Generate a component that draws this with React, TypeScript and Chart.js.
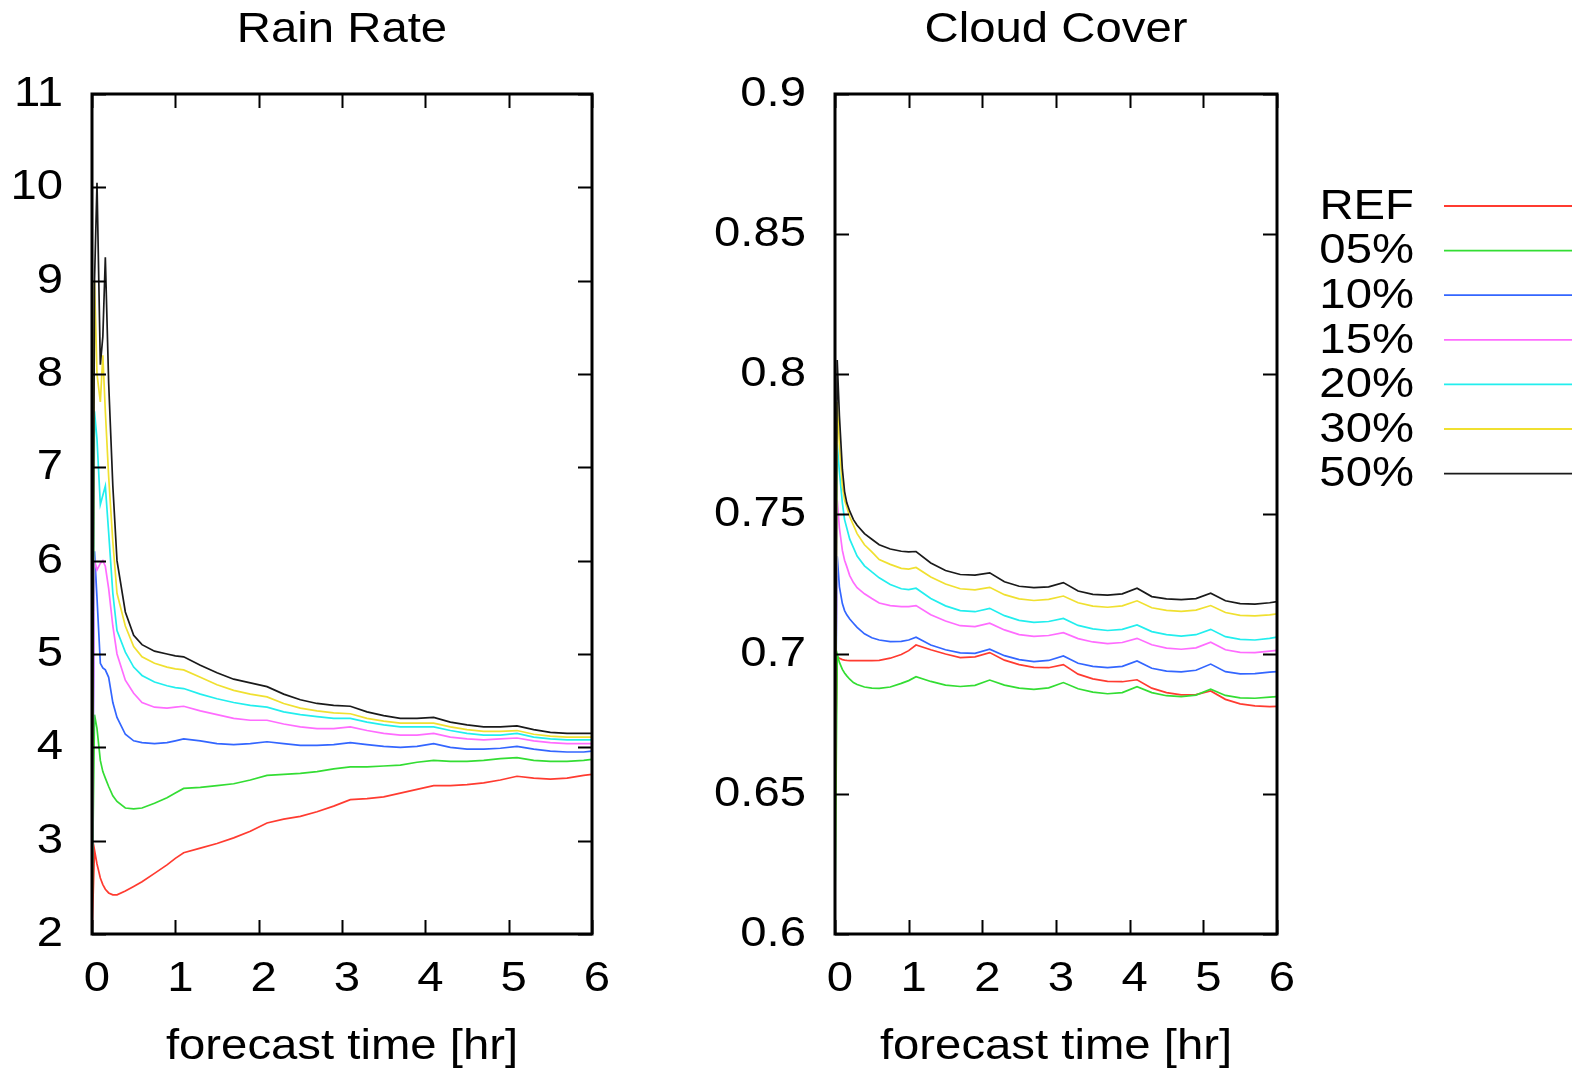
import React, { useEffect, useRef } from 'react';
import { Chart, registerables } from 'chart.js';

Chart.register(...registerables);

// ---------------- data ----------------
const timeHr = [0, 0.03, 0.06, 0.1, 0.13, 0.16, 0.2, 0.25, 0.3, 0.4, 0.5, 0.6, 0.75, 0.9, 1.0, 1.1,
  1.3, 1.5, 1.7, 1.9, 2.1, 2.3, 2.5, 2.7, 2.9, 3.1, 3.3, 3.5, 3.7, 3.9, 4.1, 4.3, 4.5, 4.7, 4.9,
  5.1, 5.3, 5.5, 5.7, 5.9, 6.0];

const seriesLabels = ['REF', '05%', '10%', '15%', '20%', '30%', '50%'];
const seriesColors = ['#ff3b30', '#33dd33', '#3366ff', '#ff6cff', '#22eeee', '#f0e030', '#1a1a1a'];

// Rain Rate
const rainREF = [2.0, 2.9, 2.75, 2.6, 2.53, 2.48, 2.44, 2.42, 2.42, 2.46, 2.51, 2.56, 2.65, 2.74, 2.81, 2.87,
  2.92, 2.97, 3.03, 3.10, 3.19, 3.23, 3.26, 3.31, 3.37, 3.44, 3.45, 3.47, 3.51, 3.55, 3.59, 3.59, 3.60, 3.62, 3.65,
  3.69, 3.67, 3.66, 3.67, 3.70, 3.71];
const rain05 = [2.2, 4.35, 4.2, 3.86, 3.74, 3.67, 3.58, 3.48, 3.42, 3.35, 3.34, 3.35, 3.40, 3.46, 3.51, 3.56,
  3.57, 3.59, 3.61, 3.65, 3.70, 3.71, 3.72, 3.74, 3.77, 3.79, 3.79, 3.80, 3.81, 3.84, 3.86, 3.85, 3.85, 3.86, 3.88,
  3.89, 3.86, 3.85, 3.85, 3.86, 3.87];
const rain10 = [2.3, 6.1, 5.6, 4.9, 4.85, 4.83, 4.75, 4.48, 4.32, 4.14, 4.07, 4.05, 4.04, 4.05, 4.07, 4.09,
  4.07, 4.04, 4.03, 4.04, 4.06, 4.04, 4.02, 4.02, 4.03, 4.05, 4.03, 4.01, 4.00, 4.01, 4.04, 4.00, 3.98, 3.98, 3.99,
  4.01, 3.98, 3.96, 3.95, 3.95, 3.96];
const rain15 = [2.5, 6.0, 5.9, 5.97, 6.0, 5.94, 5.7, 5.3, 5.0, 4.72, 4.58, 4.48, 4.43, 4.42, 4.43, 4.44,
  4.39, 4.35, 4.31, 4.29, 4.29, 4.25, 4.22, 4.20, 4.20, 4.22, 4.18, 4.15, 4.13, 4.13, 4.15, 4.11, 4.09, 4.08, 4.09,
  4.10, 4.07, 4.05, 4.04, 4.04, 4.04];
const rain20 = [2.5, 7.6, 7.3, 6.6, 6.7, 6.8, 6.3, 5.65, 5.25, 5.02, 4.86, 4.77, 4.70, 4.66, 4.64, 4.63,
  4.57, 4.52, 4.48, 4.45, 4.43, 4.38, 4.35, 4.33, 4.31, 4.31, 4.27, 4.24, 4.22, 4.22, 4.22, 4.18, 4.15, 4.13, 4.13,
  4.15, 4.11, 4.09, 4.08, 4.08, 4.08];
const rain30 = [2.1, 9.0, 8.0, 7.7, 8.2, 7.6, 6.9, 6.2, 5.65, 5.3, 5.08, 4.97, 4.9, 4.86, 4.84, 4.83,
  4.75, 4.67, 4.61, 4.57, 4.54, 4.47, 4.42, 4.39, 4.37, 4.36, 4.31, 4.28, 4.26, 4.26, 4.26, 4.22, 4.19, 4.17, 4.17,
  4.18, 4.14, 4.12, 4.11, 4.11, 4.11];
const rain50 = [2.3, 9.0, 10.05, 8.1, 8.4, 9.25, 7.9, 6.8, 6.0, 5.45, 5.2, 5.1, 5.03, 5.0, 4.98, 4.97,
  4.88, 4.80, 4.73, 4.69, 4.65, 4.57, 4.51, 4.47, 4.45, 4.44, 4.38, 4.34, 4.31, 4.31, 4.32, 4.27, 4.24, 4.22, 4.22,
  4.23, 4.19, 4.16, 4.15, 4.15, 4.15];

// Cloud Cover
const cloudREF = [0.655, 0.699, 0.6985, 0.698, 0.6978, 0.6977, 0.6976, 0.6976, 0.6976, 0.6976, 0.6976, 0.6977, 0.6985, 0.6998, 0.7012, 0.7032,
  0.7015, 0.7000, 0.6987, 0.6990, 0.7005, 0.6978, 0.6962, 0.6952, 0.6951, 0.6962, 0.6928, 0.6911, 0.6902, 0.6901, 0.6908,
  0.6878, 0.6862, 0.6854, 0.6855, 0.6868, 0.6838, 0.6822, 0.6815, 0.6812, 0.6813];
const cloud05 = [0.61, 0.700, 0.697, 0.6945, 0.6932, 0.6922, 0.691, 0.6898, 0.6891, 0.6882, 0.6878, 0.6877, 0.6882, 0.6895, 0.6905, 0.6919,
  0.6902, 0.6889, 0.6884, 0.6888, 0.6907, 0.6889, 0.6878, 0.6874, 0.6879, 0.6898, 0.6876, 0.6864, 0.6858, 0.6862, 0.6883,
  0.6862, 0.6851, 0.6848, 0.6853, 0.6874, 0.6852, 0.6843, 0.6842, 0.6846, 0.6848];
const cloud10 = [0.66, 0.735, 0.724, 0.718, 0.7155, 0.714, 0.7125, 0.711, 0.7095, 0.7072, 0.7058, 0.705, 0.7044, 0.7045, 0.705, 0.706,
  0.7032, 0.7015, 0.7004, 0.7002, 0.7017, 0.6994, 0.698, 0.6973, 0.6977, 0.6993, 0.6967, 0.6956, 0.6951, 0.6956, 0.6975,
  0.6949, 0.6939, 0.6936, 0.6942, 0.6964, 0.6937, 0.6929, 0.693, 0.6935, 0.6937];
const cloud15 = [0.65, 0.755, 0.745, 0.737, 0.7335, 0.7312, 0.728, 0.7255, 0.7237, 0.7215, 0.7198, 0.7182, 0.7173, 0.7169, 0.7169, 0.7173,
  0.714, 0.7118, 0.7101, 0.7098, 0.711, 0.7086, 0.7069, 0.7063, 0.7066, 0.7076, 0.7055, 0.7043, 0.7037, 0.7041, 0.7056,
  0.7033, 0.7021, 0.7017, 0.7022, 0.7042, 0.7015, 0.7006, 0.7005, 0.701, 0.7013];
const cloud20 = [0.655, 0.775, 0.765, 0.754, 0.748, 0.745, 0.741, 0.738, 0.735, 0.7315, 0.7293, 0.7272, 0.7248, 0.7233, 0.723, 0.7235,
  0.7198, 0.7172, 0.7155, 0.7151, 0.7163, 0.7137, 0.712, 0.7113, 0.7116, 0.7127, 0.7102, 0.709, 0.7084, 0.7088, 0.7104,
  0.708, 0.7069, 0.7064, 0.7069, 0.7088, 0.7062, 0.7052, 0.705, 0.7056, 0.706];
const cloud30 = [0.615, 0.79, 0.775, 0.76, 0.755, 0.7525, 0.749, 0.746, 0.743, 0.739, 0.7365, 0.7337, 0.732, 0.7306, 0.7303, 0.7309,
  0.7275, 0.725, 0.7233, 0.7229, 0.7238, 0.7212, 0.7197, 0.7191, 0.7195, 0.7207, 0.7183, 0.7171, 0.7167, 0.7172, 0.719,
  0.7165, 0.7156, 0.7152, 0.7157, 0.7173, 0.7148, 0.7138, 0.7136, 0.714, 0.7143];
const cloud50 = [0.632, 0.805, 0.785, 0.766, 0.758, 0.754, 0.751, 0.748, 0.746, 0.743, 0.741, 0.739, 0.7375, 0.7367, 0.7365, 0.7366,
  0.7325, 0.7298, 0.7284, 0.7282, 0.729, 0.7258, 0.7242, 0.7237, 0.724, 0.7255, 0.7225, 0.7213, 0.721, 0.7215, 0.7235,
  0.7205, 0.7197, 0.7194, 0.7198, 0.7217, 0.719, 0.718, 0.7178, 0.7183, 0.7187];

// ticks
const timeTicks = [0, 1, 2, 3, 4, 5, 6];
const rainTicks = [2, 3, 4, 5, 6, 7, 8, 9, 10, 11];
const rainTickLabels = ['2', '3', '4', '5', '6', '7', '8', '9', '10', '11'];
const cloudTicks = [0.6, 0.65, 0.7, 0.75, 0.8, 0.85, 0.9];
const cloudTickLabels = ['0.6', '0.65', '0.7', '0.75', '0.8', '0.85', '0.9'];

const rainSeries = [rainREF, rain05, rain10, rain15, rain20, rain30, rain50];
const cloudSeries = [cloudREF, cloud05, cloud10, cloud15, cloud20, cloud30, cloud50];

// ---------------- styling ----------------
const FONT = "'Liberation Sans', Arial, Helvetica, sans-serif";
const FS = 43;
const TEXT_SX = 1.1; // horizontal stretch of the original's lettering
const CANVAS_H = 1070;
const TICK_LEN = 14;

const stretchPlugin = {
  id: 'textStretch',
  beforeInit(chart: any) {
    const ctx = chart.ctx;
    const orig = ctx.fillText;
    ctx.fillText = function (text: string, x: number, y: number, maxWidth?: number) {
      this.save();
      this.translate(x, y);
      this.scale(TEXT_SX, 1);
      if (maxWidth === undefined || maxWidth === null) orig.call(this, text, 0, 0);
      else orig.call(this, text, 0, 0, maxWidth / TEXT_SX);
      this.restore();
    };
  },
};

const framePlugin = {
  id: 'gnuFrame',
  afterDatasetsDraw(chart: any) {
    const { ctx, chartArea: a, scales } = chart;
    const xs = scales.x;
    const ys = scales.y;
    ctx.save();
    ctx.strokeStyle = '#000';
    ctx.lineWidth = 2;
    ctx.beginPath();
    for (const t of xs.ticks) {
      const px = Math.round(xs.getPixelForValue(t.value)) + 0.5;
      ctx.moveTo(px, a.bottom);
      ctx.lineTo(px, a.bottom - TICK_LEN);
      ctx.moveTo(px, a.top);
      ctx.lineTo(px, a.top + TICK_LEN);
    }
    for (const t of ys.ticks) {
      const py = Math.round(ys.getPixelForValue(t.value)) + 0.5;
      ctx.moveTo(a.left, py);
      ctx.lineTo(a.left + TICK_LEN, py);
      ctx.moveTo(a.right, py);
      ctx.lineTo(a.right - TICK_LEN, py);
    }
    ctx.stroke();
    ctx.lineWidth = 3;
    ctx.strokeRect(a.left, a.top, a.right - a.left, a.bottom - a.top);
    ctx.restore();
  },
};

const KEY_TEXT_RIGHT = 714; // canvas coords of right panel
const KEY_LINE_X0 = 744;
const KEY_LINE_X1 = 872;
const KEY_TOP = 206;
const KEY_STEP = 44.6;

const keyPlugin = {
  id: 'gnuKey',
  afterDraw(chart: any) {
    const ctx = chart.ctx;
    ctx.save();
    ctx.font = `${FS}px ${FONT}`;
    ctx.textAlign = 'right';
    ctx.textBaseline = 'middle';
    chart.data.datasets.forEach((ds: any, i: number) => {
      const y = KEY_TOP + i * KEY_STEP;
      ctx.fillStyle = '#000';
      ctx.fillText(ds.label, KEY_TEXT_RIGHT, y + 1);
      ctx.strokeStyle = ds.borderColor;
      ctx.lineWidth = 1.8;
      ctx.beginPath();
      ctx.moveTo(KEY_LINE_X0, y);
      ctx.lineTo(KEY_LINE_X1, y);
      ctx.stroke();
    });
    ctx.restore();
  },
};

function makeDatasets(series: number[][]) {
  return series.map((vals, i) => ({
    label: seriesLabels[i],
    data: timeHr.map((t, j) => ({ x: t, y: vals[j] })),
    borderColor: seriesColors[i],
    backgroundColor: seriesColors[i],
    borderWidth: 1.7,
    pointRadius: 0,
    tension: 0,
    fill: false,
    order: series.length - i,
  }));
}

function makeConfig(opts: {
  title: string;
  series: number[][];
  yMin: number;
  yMax: number;
  yTicks: number[];
  yLabels: string[];
  yAxisWidth: number;
  padRight: number;
  plugins: any[];
}) {
  const font = { family: FONT, size: FS, weight: 'normal' as const };
  return {
    type: 'line' as const,
    data: { datasets: makeDatasets(opts.series) },
    plugins: opts.plugins,
    options: {
      responsive: false,
      animation: false as const,
      events: [],
      layout: { padding: { left: 0, right: opts.padRight, top: 0, bottom: 0 } },
      plugins: {
        legend: { display: false },
        tooltip: { enabled: false },
        title: {
          display: true,
          text: opts.title,
          color: '#000',
          font,
          fullSize: false,
          padding: { top: 4, bottom: 38.4 },
        },
      },
      scales: {
        x: {
          type: 'linear' as const,
          min: 0,
          max: 6,
          grid: { display: false, drawTicks: false },
          border: { display: false },
          afterBuildTicks: (s: any) => {
            s.ticks = timeTicks.map((v) => ({ value: v }));
          },
          afterFit: (s: any) => {
            s.height = 136;
          },
          ticks: {
            color: '#000',
            font,
            padding: 19,
            labelOffset: 5,
            maxRotation: 0,
            autoSkip: false,
            callback: (v: any, i: number) => String(timeTicks[i]),
          },
          title: {
            display: true,
            text: 'forecast time [hr]',
            color: '#000',
            font,
            padding: { top: 0, bottom: -3 },
          },
        },
        y: {
          type: 'linear' as const,
          min: opts.yMin,
          max: opts.yMax,
          grid: { display: false, drawTicks: false },
          border: { display: false },
          afterBuildTicks: (s: any) => {
            s.ticks = opts.yTicks.map((v) => ({ value: v }));
          },
          afterFit: (s: any) => {
            s.width = opts.yAxisWidth;
          },
          ticks: {
            color: '#000',
            font,
            padding: 29,
            autoSkip: false,
            callback: (v: any, i: number) => opts.yLabels[i],
          },
        },
      },
    },
  };
}

export default function App() {
  const leftRef = useRef<HTMLCanvasElement | null>(null);
  const rightRef = useRef<HTMLCanvasElement | null>(null);

  useEffect(() => {
    const left = new Chart(
      leftRef.current as HTMLCanvasElement,
      makeConfig({
        title: 'Rain Rate',
        series: rainSeries,
        yMin: 2,
        yMax: 11,
        yTicks: rainTicks,
        yLabels: rainTickLabels,
        yAxisWidth: 92,
        padRight: 108,
        plugins: [stretchPlugin, framePlugin],
      }) as any
    );
    const right = new Chart(
      rightRef.current as HTMLCanvasElement,
      makeConfig({
        title: 'Cloud Cover',
        series: cloudSeries,
        yMin: 0.6,
        yMax: 0.9,
        yTicks: cloudTicks,
        yLabels: cloudTickLabels,
        yAxisWidth: 135,
        padRight: 301,
        plugins: [stretchPlugin, framePlugin, keyPlugin],
      }) as any
    );
    return () => {
      left.destroy();
      right.destroy();
    };
  }, []);

  return (
    <div style={{ position: 'absolute', left: 0, top: 0, width: 1578, height: CANVAS_H, background: '#fff' }}>
      <canvas
        ref={leftRef}
        width={700}
        height={CANVAS_H}
        style={{ position: 'absolute', left: 0, top: 0, width: 700, height: CANVAS_H }}
      />
      <canvas
        ref={rightRef}
        width={878}
        height={CANVAS_H}
        style={{ position: 'absolute', left: 700, top: 0, width: 878, height: CANVAS_H }}
      />
    </div>
  );
}
